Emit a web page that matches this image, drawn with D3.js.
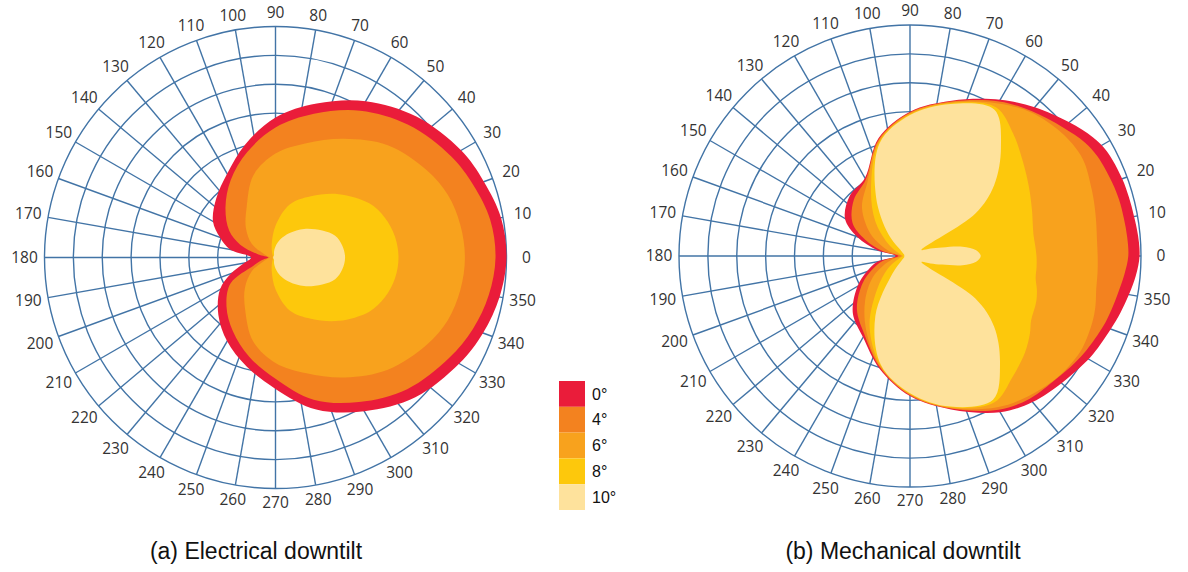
<!DOCTYPE html>
<html>
<head>
<meta charset="utf-8">
<script src="https://cdn.jsdelivr.net/npm/d3@7"></script>
<style>
  body { margin: 0; background: #fff; }
</style>
</head>
<body>
<div class="chart"></div>
<script>
// angles in degrees (0 = right, counter-clockwise), radii in grid rings (0 - 8)
var elecAngles = [0, 10, 20, 30, 45, 60, 75, 90, 105, 120, 135, 150, 160, 170, 180,
                  190, 200, 210, 225, 240, 255, 270, 285, 300, 315, 330, 340, 350];
var elecTilt0  = [8.0, 7.93, 7.68, 7.42, 6.9, 6.25, 5.52, 4.85, 4.05, 3.35, 2.9, 2.5, 2.05, 1.6, 0.85,
                  1.1, 1.65, 2.22, 2.8, 3.35, 3.9, 4.55, 5.45, 6.15, 6.85, 7.35, 7.65, 7.88];
var elecTilt4  = [7.62, 7.55, 7.3, 7.02, 6.5, 5.87, 5.15, 4.5, 3.78, 3.1, 2.45, 1.85, 1.3, 0.6, 0.25,
                  0.45, 0.8, 1.8, 2.4, 2.95, 3.55, 4.2, 5.1, 5.78, 6.45, 6.95, 7.27, 7.5];
var elecTilt6  = [6.56, 6.5, 6.35, 6.05, 5.5, 4.75, 4.1, 3.6, 2.95, 2.0, 1.45, 0.95, 0.5, 0.3, 0.2,
                  0.3, 0.5, 0.95, 1.5, 2.1, 3.0, 3.65, 4.15, 4.8, 5.5, 6.05, 6.35, 6.5];
var elecTilt8  = [4.26, 4.2, 4.03, 3.75, 3.1, 2.45, 1.9, 1.1, 0.5, 0.25, 0.15, 0.1, 0.1, 0.1, 0.1,
                  0.1, 0.1, 0.1, 0.15, 0.25, 0.5, 1.1, 1.9, 2.45, 3.1, 3.75, 4.03, 4.2];
var elecTilt10 = [2.41, 2.35, 2.2, 1.87, 1.4, 0.98, 0.65, 0.38, 0.2, 0.1, 0.08, 0.08, 0.08, 0.08, 0.08,
                  0.08, 0.08, 0.08, 0.08, 0.1, 0.2, 0.38, 0.65, 0.98, 1.4, 1.87, 2.2, 2.35];

var mechAngles = [0, 5, 10, 15, 20, 28, 33, 40, 50, 60, 75, 90, 105, 120, 135, 150, 160, 170, 180,
                  190, 200, 210, 225, 240, 255, 270, 285, 300, 310, 320, 327, 332, 340, 345, 350, 355];
var mechTilt0  = [7.95, 7.93, 7.88, 7.85, 7.82, 7.72, 7.55, 7.2, 6.72, 6.25, 5.57, 5.0, 4.22, 3.12, 2.95, 2.6, 1.95, 1.15, 0.5,
                  1.15, 1.6, 2.1, 2.8, 3.25, 4.05, 4.85, 5.5, 6.25, 6.6, 6.85, 7.05, 7.2, 7.4, 7.55, 7.7, 7.85];
var mechTilt4  = [7.56, 7.55, 7.52, 7.5, 7.45, 7.35, 7.22, 6.92, 6.55, 6.18, 5.54, 4.97, 4.18, 3.06, 2.75, 2.3, 1.65, 0.95, 0.4,
                  0.95, 1.4, 1.9, 2.6, 3.15, 4.0, 4.82, 5.47, 6.15, 6.45, 6.62, 6.8, 6.93, 7.12, 7.22, 7.32, 7.45];
var mechTilt6  = [6.5, 6.5, 6.55, 6.62, 6.7, 6.85, 6.85, 6.75, 6.5, 6.1, 5.51, 4.94, 4.14, 2.95, 2.35, 1.6, 1.05, 0.6, 0.3,
                  0.6, 1.0, 1.5, 2.2, 3.02, 3.97, 4.8, 5.45, 6.05, 6.35, 6.6, 6.72, 6.77, 6.72, 6.65, 6.55, 6.52];
var mechTilt8  = [4.38, 4.35, 4.34, 4.4, 4.5, 4.7, 4.85, 5.1, 5.55, 5.95, 5.48, 4.91, 4.1, 2.7, 1.7, 0.9, 0.55, 0.35, 0.25,
                  0.35, 0.55, 0.9, 1.6, 2.8, 3.93, 4.78, 5.42, 5.85, 5.5, 5.2, 4.95, 4.75, 4.65, 4.55, 4.42, 4.4];
var mechTilt10 = [2.45, 2.3, 1.85, 1.15, 0.75, 0.45, 2.7, 3.8, 4.9, 5.85, 5.45, 4.88, 4.05, 2.35, 1.05, 0.35, 0.25, 0.2, 0.2,
                  0.2, 0.25, 0.35, 0.85, 2.4, 3.9, 4.75, 5.4, 5.75, 4.85, 3.8, 2.7, 0.45, 0.75, 1.15, 1.85, 2.3];

var tiltLabels = ["0°", "4°", "6°", "8°", "10°"];
var angleTicks = [0, 10, 20, 30, 40, 50, 60, 70, 80, 90, 100, 110, 120, 130, 140, 150, 160, 170,
                  180, 190, 200, 210, 220, 230, 240, 250, 260, 270, 280, 290, 300, 310, 320, 330, 340, 350];
var captions = ["(a) Electrical downtilt", "(b) Mechanical downtilt"];

var tiltColors = ["#ea1c3a", "#f3821f", "#f8a21d", "#fdc80c", "#fee29c"];
var gridColor = "#4274a6";

var svgWidth = 1188;
var svgHeight = 572;
var ringCount = 8;
var outerR = 231;

var svg = d3.select(".chart")
    .append("svg")
    .attr("width", svgWidth)
    .attr("height", svgHeight);

var r = d3.scaleLinear().domain([0, ringCount]).range([0, outerR]);
var rad = function(deg) { return deg * Math.PI / 180; };

var shape = d3.lineRadial()
    .angle(function(d) { return rad(90 - d[0]); })
    .radius(function(d) { return r(d[1]); })
    .curve(d3.curveCatmullRomClosed.alpha(0.5));

function drawPolar(cx, cy, angles, levels) {
  var g = svg.append("g").attr("transform", `translate(${cx},${cy})`);

  // rings
  g.selectAll(".ring")
      .data(d3.range(1, ringCount + 1))
      .enter()
      .append("circle")
      .attr("r", function(d) { return r(d); })
      .attr("fill", "none")
      .attr("stroke", gridColor)
      .attr("stroke-width", 1.4);

  // spokes
  g.selectAll(".spoke")
      .data(angleTicks)
      .enter()
      .append("line")
      .attr("x1", 0)
      .attr("y1", 0)
      .attr("x2", function(d) { return r(ringCount) * Math.cos(rad(d)); })
      .attr("y2", function(d) { return -r(ringCount) * Math.sin(rad(d)); })
      .attr("stroke", gridColor)
      .attr("stroke-width", 1.4);

  // angle labels
  g.selectAll(".tick")
      .data(angleTicks)
      .enter()
      .append("text")
      .attr("x", function(d) { return (outerR + 14 + 6 * Math.abs(Math.cos(rad(d)))) * Math.cos(rad(d)); })
      .attr("y", function(d) { return -(outerR + 14 + 6 * Math.abs(Math.cos(rad(d)))) * Math.sin(rad(d)); })
      .attr("dy", "0.35em")
      .attr("text-anchor", "middle")
      .attr("font-family", "'Open Sans', sans-serif")
      .attr("font-size", 15.5)
      .attr("fill", "#333")
      .text(function(d) { return d; });

  // downtilt footprints, biggest first
  levels.forEach(function(vals, i) {
    g.append("path")
        .datum(angles.map(function(a, j) { return [a, vals[j]]; }))
        .attr("d", shape)
        .attr("fill", tiltColors[i]);
  });
}

drawPolar(275.5, 257.5, elecAngles, [elecTilt0, elecTilt4, elecTilt6, elecTilt8, elecTilt10]);
drawPolar(910, 256, mechAngles, [mechTilt0, mechTilt4, mechTilt6, mechTilt8, mechTilt10]);

// legend
var legend = svg.append("g").attr("transform", "translate(559,381)");
legend.selectAll("rect")
    .data(tiltLabels)
    .enter()
    .append("rect")
    .attr("x", 0)
    .attr("y", function(d, i) { return i * 25.8; })
    .attr("width", 26)
    .attr("height", 25.8)
    .attr("fill", function(d, i) { return tiltColors[i]; });
legend.selectAll("text")
    .data(tiltLabels)
    .enter()
    .append("text")
    .attr("x", 33)
    .attr("y", function(d, i) { return i * 25.8 + 13; })
    .attr("dy", "0.35em")
    .attr("font-family", "'Liberation Sans', Arial, sans-serif")
    .attr("font-size", 16)
    .attr("fill", "#111")
    .text(function(d) { return d; });

// captions
svg.selectAll(".caption")
    .data(captions)
    .enter()
    .append("text")
    .attr("x", function(d, i) { return i === 0 ? 256 : 903; })
    .attr("y", 551)
    .attr("dy", "0.35em")
    .attr("text-anchor", "middle")
    .attr("font-family", "'Liberation Sans', Arial, sans-serif")
    .attr("font-size", 23)
    .attr("fill", "#111")
    .text(function(d) { return d; });
</script>
</body>
</html>
